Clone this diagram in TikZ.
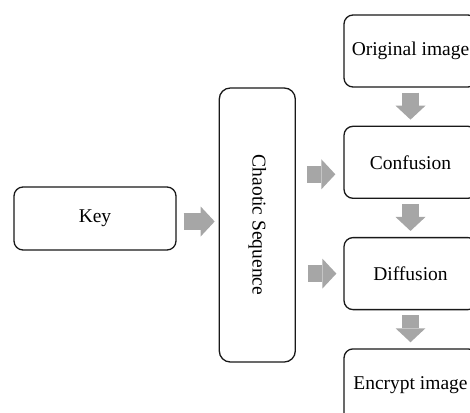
\documentclass[tikz,border=0pt]{standalone}
\usepackage{fontspec}
\setmainfont{Liberation Serif}
\usepackage{tikz}
\usetikzlibrary{arrows.meta,positioning}
\definecolor{darkline}{RGB}{25,25,25}
\definecolor{arrowgray}{RGB}{166,166,166}
\tikzset{
  box/.style   ={rectangle, rounded corners=9pt, draw=darkline, line width=1.3pt, fill=white,
                 align=center, font=\fontsize{19.5}{23}\selectfont},
  rbox/.style  ={box, minimum width=133pt, minimum height=72pt},
  bflow/.style ={-{Triangle[length=14pt,width=30pt,line width=0pt]}, line width=17pt, draw=arrowgray}
}
\begin{document}
\begin{tikzpicture}[node distance=38pt]
\useasboundingbox (0,0) rectangle (470pt,-412pt);
\begin{scope}
\clip (0,0) rectangle (470pt,-412pt);
\node[box, minimum width=162pt, minimum height=63pt] (key) at (95pt,-218.5pt) {Key};
\node[box, minimum width=76pt, minimum height=274pt, right=42pt of key, yshift=-6.5pt,
      rounded corners=11pt] (chaos) {};
\node[rotate=-90, font=\fontsize{19.5}{23}\selectfont] (chaostxt) at (chaos) {Chaotic Sequence};
\node[rbox] (orig) at (410.5pt,-51pt) {Original image};
\node[rbox, below=of orig] (conf) {Confusion};
\node[rbox, below=of conf] (diff) {Diffusion};
% box runs out of the picture at the bottom
\node[rbox, below=of diff, minimum height=90pt, text depth=22pt] (enc) {Encrypt image};

\draw[bflow, shorten <=7pt, shorten >=4pt] ([yshift=-3pt]key.east) -- ([yshift=-3pt]key.east -| chaos.west);
\draw[bflow, shorten <=11pt, shorten >=8pt] ([yshift=-12pt]conf.west -| chaos.east) -- ([yshift=-12pt]conf.west);
\draw[bflow, shorten <=12pt, shorten >=7pt] (diff.west -| chaos.east) -- (diff.west);
\draw[bflow, shorten <=5pt, shorten >=6pt] (orig) -- (conf);
\draw[bflow, shorten <=5pt, shorten >=6pt] (conf) -- (diff);
\draw[bflow, shorten <=5pt, shorten >=6pt] (diff) -- (enc);
\end{scope}
\end{tikzpicture}
\end{document}
